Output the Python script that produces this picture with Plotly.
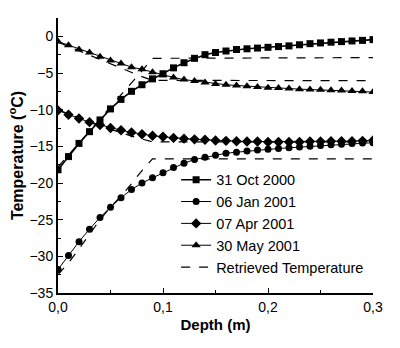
import plotly.graph_objects as go

# Depth grid (m)
depth = [round(i * 0.01, 2) for i in range(31)]

# Measured temperature profiles (°C)
oct_2000 = [-18.2, -16.4, -14.6, -13.0, -11.4, -9.9, -8.6, -7.5, -6.6, -5.8,
            -5.1, -4.3, -3.6, -3.0, -2.5, -2.2, -2.0, -1.8, -1.7, -1.6,
            -1.5, -1.4, -1.3, -1.15, -1.0, -0.9, -0.8, -0.72, -0.63, -0.55, -0.45]
jan_2001 = [-31.8, -29.9, -28.0, -26.3, -24.7, -23.3, -22.0, -20.9, -20.0, -19.3,
            -18.6, -17.9, -17.3, -16.8, -16.5, -16.2, -15.95, -15.8, -15.65, -15.5,
            -15.4, -15.3, -15.2, -15.1, -15.0, -14.9, -14.8, -14.7, -14.6, -14.55, -14.5]
apr_2001 = [-10.1, -10.7, -11.2, -11.7, -12.1, -12.5, -12.8, -13.1, -13.35, -13.55,
            -13.7, -13.85, -13.95, -14.05, -14.1, -14.2, -14.25, -14.3, -14.35, -14.35,
            -14.4, -14.4, -14.4, -14.4, -14.35, -14.35, -14.3, -14.3, -14.3, -14.25, -14.2]
may_2001 = [-0.7, -1.2, -1.8, -2.2, -2.8, -3.3, -3.7, -4.2, -4.5, -4.9,
            -5.3, -5.6, -5.9, -6.1, -6.3, -6.5, -6.6, -6.7, -6.8, -6.9,
            -7.0, -7.05, -7.1, -7.2, -7.25, -7.3, -7.35, -7.4, -7.45, -7.5, -7.6]

# Retrieved temperature profiles (°C)
ret_depth = [0.0, 0.01, 0.02, 0.03, 0.04, 0.05, 0.06, 0.07, 0.08, 0.09, 0.3]
ret_oct = [-17.8, -16.2, -14.6, -13.0, -11.3, -9.6, -8.0, -6.4, -4.7, -3.0, -2.9]
ret_jan = [-32.5, -30.9, -29.0, -27.0, -25.0, -23.3, -21.8, -20.1, -18.3, -16.7, -16.7]
ret_apr = [-10.0, -10.6, -11.2, -11.7, -12.2, -12.7, -13.1, -13.6, -14.0, -14.4, -14.4]
ret_may = [-0.8, -1.4, -2.0, -2.6, -3.2, -3.8, -4.3, -4.9, -5.5, -6.0, -6.05]

x_ticks = [0.0, 0.1, 0.2, 0.3]
x_labels = ["0,0", "0,1", "0,2", "0,3"]
y_ticks = [0, -5, -10, -15, -20, -25, -30, -35]

series = [
    ("31 Oct 2000", oct_2000, "square", 7, 1.6),
    ("06 Jan 2001", jan_2001, "circle", 7, 1.0),
    ("07 Apr 2001", apr_2001, "diamond", 8, 1.0),
    ("30 May 2001", may_2001, "triangle-up", 8, 1.0),
]

fig = go.Figure()

for i, ret in enumerate([ret_oct, ret_jan, ret_apr, ret_may]):
    fig.add_trace(go.Scatter(
        x=ret_depth, y=ret, mode="lines",
        line=dict(color="black", width=1.2, dash="dash"),
        name="Retrieved Temperature", showlegend=(i == 0), legendrank=10,
    ))

for name, vals, sym, size, lw in series:
    fig.add_trace(go.Scatter(
        x=depth, y=vals, mode="lines+markers", name=name,
        line=dict(color="black", width=lw),
        marker=dict(symbol=sym, size=size, color="black"),
        legendrank=1,
    ))

family = "Liberation Sans, Arial, sans-serif"
tick_font = dict(family=family, size=14, color="black")

fig.update_layout(
    width=400, height=348,
    margin=dict(l=58, r=27, t=18, b=55),
    paper_bgcolor="white", plot_bgcolor="white",
    font=tick_font,
    showlegend=True,
    legend=dict(
        x=0.375, y=0.47, xanchor="left", yanchor="top",
        bgcolor="rgba(0,0,0,0)", borderwidth=0,
        font=dict(family=family, size=14.5, color="black"),
        tracegroupgap=0, itemwidth=30,
    ),
    xaxis=dict(
        range=[0, 0.3], tickvals=x_ticks, ticktext=x_labels, tickfont=tick_font,
        showline=True, linecolor="black", linewidth=2,
        ticks="inside", ticklen=5, tickwidth=1, tickcolor="black",
        minor=dict(dtick=0.05, tick0=0, ticks="inside", ticklen=3, tickcolor="black"),
        showgrid=False, zeroline=False,
        title=dict(text="<b>Depth (m)</b>", font=dict(family=family, size=15, color="black"), standoff=6),
    ),
    yaxis=dict(
        range=[-35, 2.5], tickvals=y_ticks, tickfont=tick_font,
        showline=True, linecolor="black", linewidth=2,
        ticks="inside", ticklen=5, tickwidth=1, tickcolor="black",
        minor=dict(dtick=2.5, tick0=0, ticks="inside", ticklen=3, tickcolor="black"),
        showgrid=False, zeroline=False,
        title=dict(text="<b>Temperature (<sup>o</sup>C)</b>", font=dict(family=family, size=16, color="black"), standoff=2),
    ),
)

fig.write_html("out.html")
